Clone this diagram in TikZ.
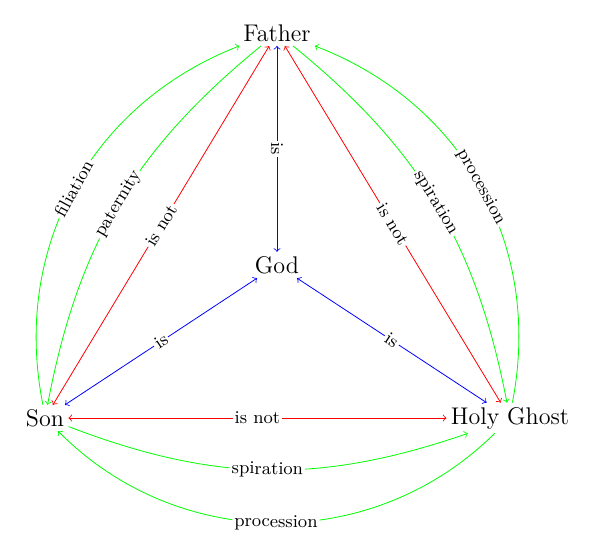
\documentclass[tikz,border=0pt]{standalone}
\usetikzlibrary{arrows}
\tikzset{person/.style={inner sep=2pt,font=\large}}
\tikzset{rel/.style={font=\small,text=black,fill=white,inner sep=1pt,sloped}}
\tikzset{isrel/.style={<->,blue}}
\tikzset{notrel/.style={<->,red}}
\tikzset{origin/.style={->,green}}
\begin{document}
\begin{tikzpicture}[x=0.0175cm,y=-0.0175cm]
    \useasboundingbox (0,0) rectangle (600,559);
    \node [person] (father) at (277,33) {Father};
    \node [person] (god) at (277,265) {God};
    \node [person] (son) at (45,418) {Son};
    \node [person] (ghost) at (510,418) {Holy Ghost};
    % is
    \draw [isrel] (father) -- node [rel] {is} (god);
    \draw [isrel] (son) -- node [rel] {is} (god);
    \draw [isrel] (ghost) -- node [rel] {is} (god);
    % is not
    \draw [notrel] (father) -- node [rel] {is not} (son);
    \draw [notrel] (father) -- node [rel] {is not} (ghost);
    \draw [notrel] (son) -- node [rel] {is not} (ghost);
    % origins
    \draw [origin] (son) to [bend left=40] node [rel] {filiation} (father);
    \draw [origin] (father) to [bend right=20] node [rel] {paternity} (son);
    \draw [origin] (father) to [bend left=20] node [rel] {spiration} (ghost);
    \draw [origin] (ghost) to [bend right=40] node [rel] {procession} (father);
    \draw [origin] (son) to [bend right=20] node [rel] {spiration} (ghost);
    \draw [origin] (ghost) to [bend left=45] node [rel] {procession} (son);
\end{tikzpicture}
\end{document}
